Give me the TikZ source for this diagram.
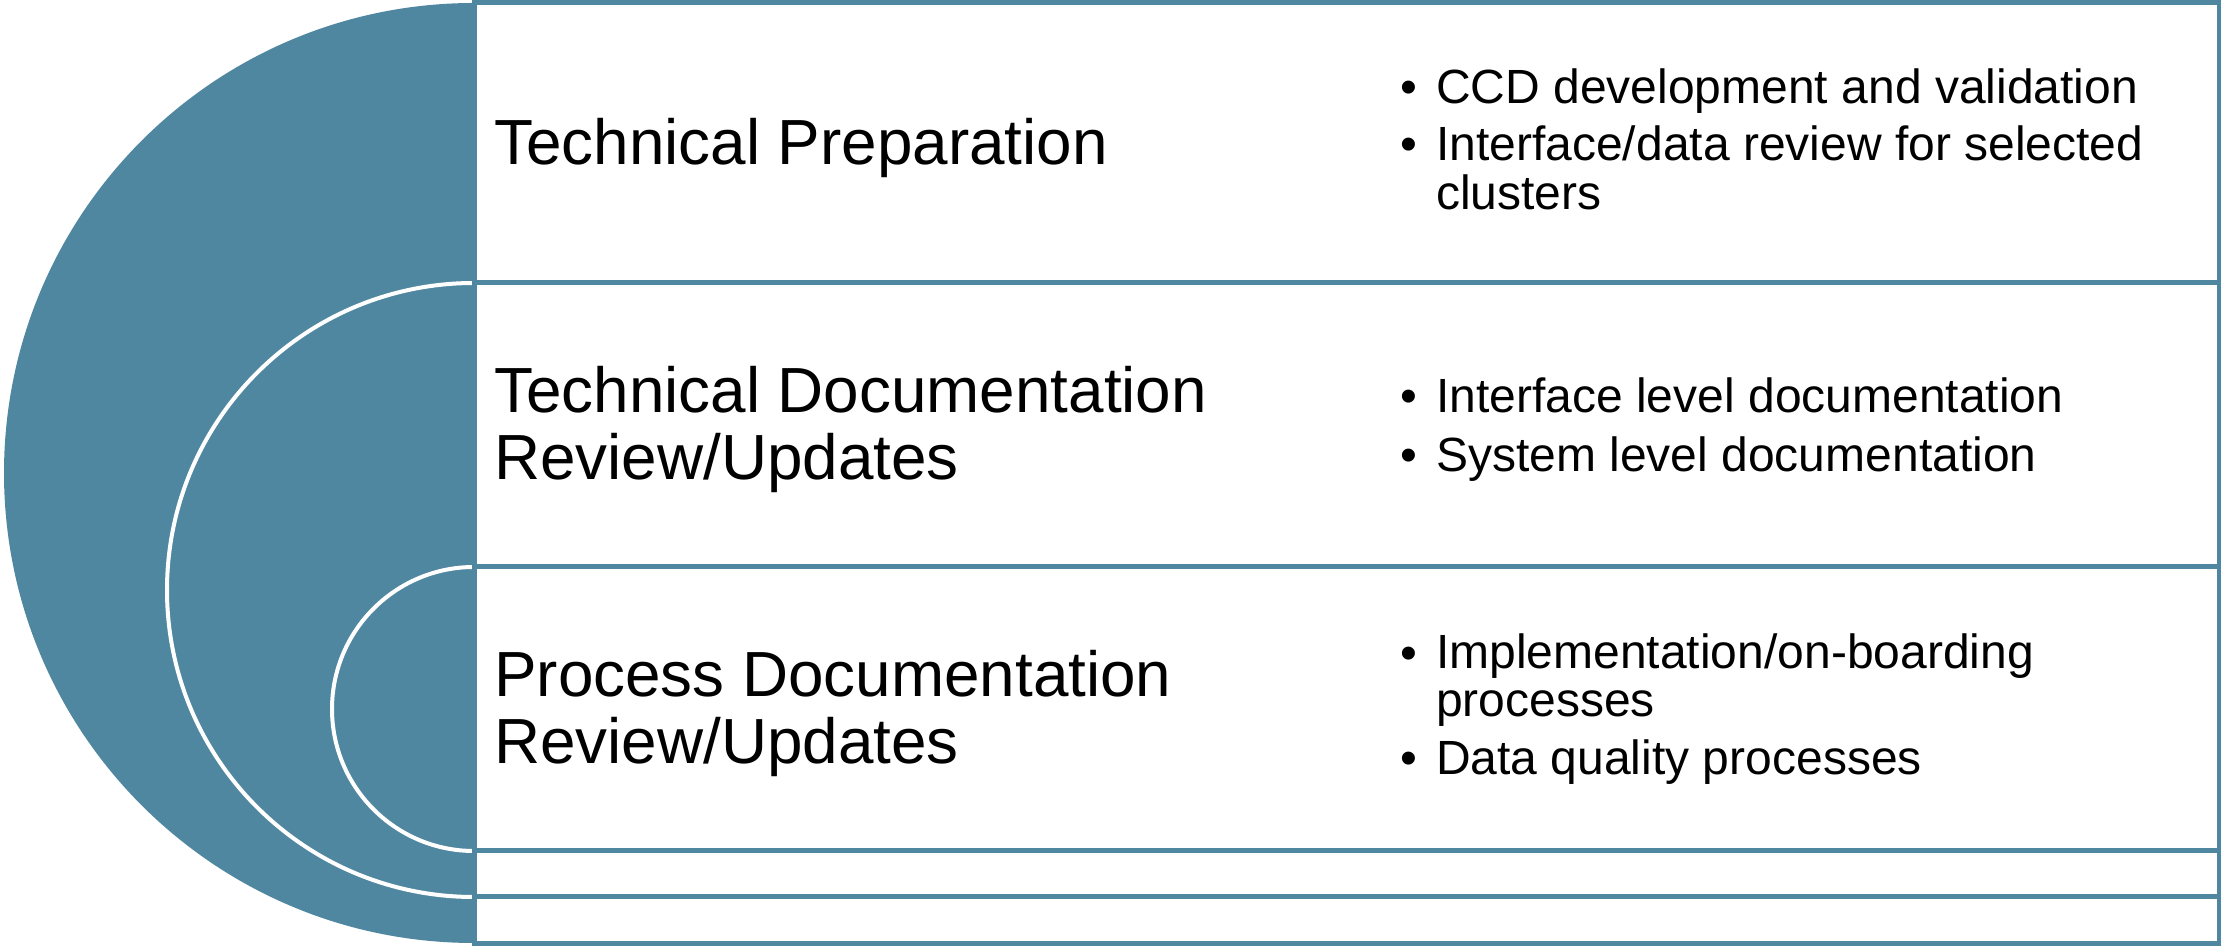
\documentclass[tikz,border=0pt]{standalone}
\usepackage{fontspec}
\setmainfont{Liberation Sans}
\definecolor{tealblue}{RGB}{80,135,160}
\begin{document}
\begin{tikzpicture}[x=1pt,y=1pt,
  disc/.style={fill=tealblue},
  ring/.style={fill=tealblue, draw=white, line width=4pt},
  panel/.style={fill=white, draw=tealblue, line width=5pt},
  title/.style={anchor=base west, align=left, inner sep=0pt, font=\fontsize{63.8}{66.6}\selectfont},
  item/.style={anchor=base west, align=left, inner sep=0pt, font=\fontsize{48}{48.3}\selectfont},
  dot/.style={anchor=base west, inner sep=0pt, font=\fontsize{48}{48.3}\selectfont}]
\useasboundingbox (0,0) rectangle (2221,947);
% nested half discs
\fill[disc] (474,944) arc[start angle=90, end angle=270, radius=470] -- cycle;
\draw[ring] (474,664) arc[start angle=90, end angle=270, radius=307] -- cycle;
\draw[ring] (474,380) arc[start angle=90, end angle=270, radius=142] -- cycle;
% panels
\draw[panel] (474,3) rectangle (2219,944);
\draw[panel] (474,50) rectangle (2219,664);
\draw[panel] (474,96) rectangle (2219,380);
% titles (anchor = baseline of the last line)
\node[title] (t1) at (494,782) {Technical Preparation};
\node[title] (t2) at (494,467.7) {Technical Documentation\\Review/Updates};
\node[title] (t3) at (494,183.7) {Process Documentation\\Review/Updates};
% bullets row 1
\node[dot] (d11) at (1400,843.7) {•};
\node[item] (i11) at (1436,843.7) {CCD development and validation};
\node[dot] (d12) at (1400,786) {•};
\node[item] (i12) at (1436,737.7) {Interface/data review for selected\\clusters};
% bullets row 2
\node[dot] (d21) at (1400,534.2) {•};
\node[item] (i21) at (1436,534.2) {Interface level documentation};
\node[dot] (d22) at (1400,475.9) {•};
\node[item] (i22) at (1436,475.9) {System level documentation};
% bullets row 3
\node[dot] (d31) at (1400,277.7) {•};
\node[item] (i31) at (1436,230.3) {Implementation/on-boarding\\processes};
\node[dot] (d32) at (1400,172) {•};
\node[item] (i32) at (1436,172) {Data quality processes};
\end{tikzpicture}
\end{document}
